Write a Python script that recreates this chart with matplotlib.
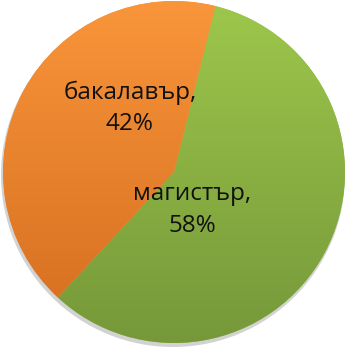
import numpy as np
import matplotlib.pyplot as plt
from matplotlib.colors import LinearSegmentedColormap
from matplotlib.patches import Circle

# data
labels = ['магистър', 'бакалавър']
shares = [58, 42]
top_colors = ['#9dc74b', '#f9953a']
bottom_colors = ['#76983a', '#d46d1f']

plt.rcParams['font.family'] = ['Open Sans', 'DejaVu Sans']

fig = plt.figure(figsize=(3.5, 3.51), dpi=100)
ax = fig.add_axes([0, 0, 1, 1])

R = 171
# soft shadow under the pie
ax.add_patch(Circle((-1, -3), R + 1, color='#7f7f7f', alpha=0.35, lw=0, zorder=0))

wedges, _ = ax.pie(shares, startangle=76, counterclock=False, radius=R,
                   colors=top_colors, wedgeprops=dict(lw=0))

# vertical gradient fill for each slice
grad = np.linspace(1, 0, 256).reshape(-1, 1)
for w, c1, c2 in zip(wedges, top_colors, bottom_colors):
    w.set_zorder(1)
    cmap = LinearSegmentedColormap.from_list('g', [c2, c1])
    im = ax.imshow(grad, cmap=cmap, extent=[-R, R, -R, R], aspect='auto',
                   zorder=2, vmin=0, vmax=1)
    im.set_clip_path(w)

# data labels (placed like Excel's best-fit)
label_pos = [(18, -38), (-44, 64)]
for lab, s, (x, y) in zip(labels, shares, label_pos):
    ax.text(x, y, f'{lab},\n{s}%', ha='center', va='center', fontsize=17.5,
            color='#111111', linespacing=1.4, zorder=3)

ax.set_xlim(-174, 350 - 174)
ax.set_ylim(-(351 - 172), 172)
ax.set_aspect('equal')
ax.axis('off')

fig.savefig('out.png', dpi=100)
